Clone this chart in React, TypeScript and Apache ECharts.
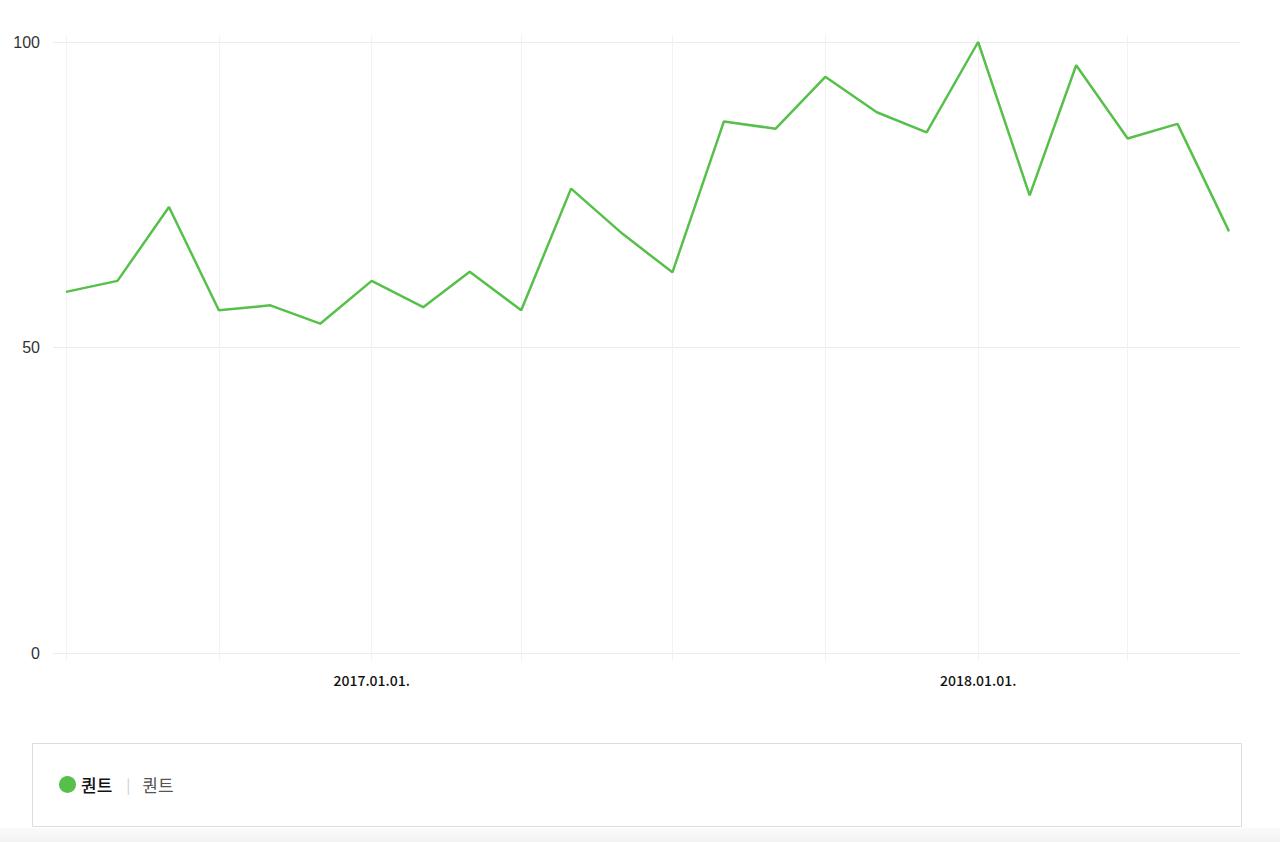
import React, { useEffect, useRef } from "react";
import * as echarts from "echarts";

const months = [
  "2016-07-01", "2016-08-01", "2016-09-01", "2016-10-01", "2016-11-01", "2016-12-01",
  "2017-01-01", "2017-02-01", "2017-03-01", "2017-04-01", "2017-05-01", "2017-06-01",
  "2017-07-01", "2017-08-01", "2017-09-01", "2017-10-01", "2017-11-01", "2017-12-01",
  "2018-01-01", "2018-02-01", "2018-03-01", "2018-04-01", "2018-05-01", "2018-06-01",
];
const values = [
  59.1, 60.9, 73.0, 56.1, 56.9, 53.9,
  60.9, 56.6, 62.4, 56.1, 76.0, 68.6,
  62.3, 87.0, 85.8, 94.3, 88.5, 85.2,
  100, 74.9, 96.2, 84.2, 86.6, 69.0,
];
const quarterLines = [
  "2016-07-01", "2016-10-01", "2017-01-01", "2017-04-01",
  "2017-07-01", "2017-10-01", "2018-01-01", "2018-04-01",
];
const labelDates = ["2017-01-01", "2018-01-01"];
const seriesName = "퀀트";

const DAY = 86400000;
const toTs = (s: string) => {
  const [y, m, d] = s.split("-").map(Number);
  return new Date(y, m - 1, d).getTime();
};
const pad = (n: number) => (n < 10 ? "0" + n : "" + n);
const fmtDate = (v: number) => {
  const d = new Date(v);
  return `${d.getFullYear()}.${pad(d.getMonth() + 1)}.${pad(d.getDate())}.`;
};

export default function App() {
  const ref = useRef<HTMLDivElement>(null);
  useEffect(() => {
    document.body.style.margin = "0";
    const chart = echarts.init(ref.current!, null, { renderer: "svg" });
    const xMin = toTs(months[0]) - 7.8 * DAY;
    const xMax = toTs(months[months.length - 1]) + 6.6 * DAY;
    const green = "#57c04a";
    chart.setOption({
      animation: false,
      backgroundColor: "#fff",
      grid: [
        { left: 53, right: 40, top: 42, bottom: 189 },
        { left: 53, right: 40, top: 35, bottom: 181 },
      ],
      xAxis: [
        {
          type: "value",
          gridIndex: 0,
          min: xMin,
          max: xMax,
          axisLine: { show: false },
          axisTick: { show: false },
          splitLine: { show: false },
          axisLabel: {
            customValues: labelDates.map(toTs),
            formatter: (v: number) => fmtDate(v),
            color: "#111",
            fontSize: 14,
            fontWeight: 500,
            fontFamily: "Noto Sans CJK KR, Noto Sans, sans-serif",
            margin: 20,
          },
        },
        {
          type: "value",
          gridIndex: 1,
          min: xMin,
          max: xMax,
          axisLine: { show: false },
          axisLabel: { show: false },
          axisTick: { show: false, customValues: quarterLines.map(toTs) },
          splitLine: { show: true, lineStyle: { color: "#f2f2f2", width: 1 } },
        },
      ],
      yAxis: [
        {
          type: "value",
          gridIndex: 0,
          min: 0,
          max: 100,
          interval: 50,
          axisLine: { show: false },
          axisTick: { show: false },
          splitLine: { show: true, lineStyle: { color: "#ebebeb", width: 1 } },
          axisLabel: {
            color: "#333",
            fontSize: 16,
            fontFamily: "Liberation Sans, Arial, sans-serif",
            margin: 13,
          },
        },
        {
          type: "value",
          gridIndex: 1,
          min: 0,
          max: 1,
          show: false,
          splitLine: { show: false },
        },
      ],
      legend: {
        left: 54,
        top: 771,
        icon: "circle",
        itemWidth: 17,
        itemHeight: 17,
        data: [seriesName],
        selectedMode: false,
        formatter: (name: string) => `{b|${name}}{s||}{g|${name}}`,
        textStyle: {
          fontFamily: "Noto Sans CJK KR, sans-serif",
          fontSize: 17,
          rich: {
            b: { fontWeight: 500, color: "#111", fontSize: 17, fontFamily: "Noto Sans CJK KR, sans-serif" },
            s: { color: "#ccc", fontSize: 15, padding: [0, 12, 0, 14] },
            g: { color: "#555", fontSize: 17, fontFamily: "Noto Sans CJK KR, sans-serif" },
          },
        },
      },
      graphic: [
        {
          type: "rect",
          left: 32,
          top: 743,
          shape: { width: 1209, height: 83 },
          style: { fill: "#fff", stroke: "#dcdcdc", lineWidth: 1 },
          z: -10,
        },
        {
          type: "rect",
          left: 0,
          top: 828,
          shape: { width: 1280, height: 14 },
          style: {
            fill: new echarts.graphic.LinearGradient(0, 0, 0, 1, [
              { offset: 0, color: "#fafafa" },
              { offset: 1, color: "#f3f3f3" },
            ]),
          },
          z: -11,
        },
      ],
      series: [
        {
          name: seriesName,
          type: "line",
          xAxisIndex: 0,
          yAxisIndex: 0,
          data: months.map((m, i) => [toTs(m), values[i]]),
          showSymbol: false,
          symbol: "none",
          lineStyle: { color: green, width: 2.5 },
          itemStyle: { color: green },
          z: 5,
        },
      ],
    });
    return () => chart.dispose();
  }, []);
  return <div ref={ref} style={{ width: 1280, height: 842 }} />;
}
